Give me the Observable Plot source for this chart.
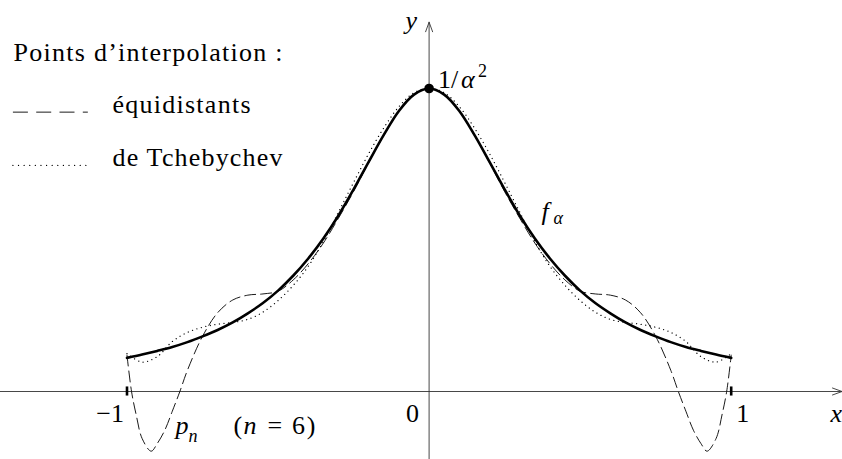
<!DOCTYPE html>
<html><head><meta charset="utf-8">
<script src="https://cdn.jsdelivr.net/npm/d3@7"></script>
<script src="https://cdn.jsdelivr.net/npm/@observablehq/plot@0.6"></script>
<style>html,body{margin:0;padding:0;background:#fff;} #chart{width:842px;height:459px;}</style>
</head><body><div id="chart"></div>
<script>
// ---- data ----
const xs = [-1, -0.95, -0.9, -0.85, -0.8, -0.75, -0.7, -0.65, -0.6, -0.55, -0.5, -0.45, -0.4, -0.35, -0.3, -0.25, -0.2, -0.15, -0.1, -0.05, 0,
            0.05, 0.1, 0.15, 0.2, 0.25, 0.3, 0.35, 0.4, 0.45, 0.5, 0.55, 0.6, 0.65, 0.7, 0.75, 0.8, 0.85, 0.9, 0.95, 1];
const fAlpha = [0.111, 0.122, 0.134, 0.147, 0.163, 0.182, 0.203, 0.228, 0.258, 0.292, 0.333, 0.382, 0.439, 0.505, 0.581, 0.667, 0.758, 0.847, 0.926, 0.980, 1.000,
                0.980, 0.926, 0.847, 0.758, 0.667, 0.581, 0.505, 0.439, 0.382, 0.333, 0.292, 0.258, 0.228, 0.203, 0.182, 0.163, 0.147, 0.134, 0.122, 0.111];
const tcheb = [0.125, 0.097, 0.115, 0.165, 0.195, 0.212, 0.222, 0.228, 0.238, 0.262, 0.300, 0.350, 0.413, 0.495, 0.592, 0.690, 0.785, 0.870, 0.940, 0.986, 1.000,
               0.986, 0.940, 0.870, 0.785, 0.690, 0.592, 0.495, 0.413, 0.350, 0.300, 0.262, 0.238, 0.228, 0.222, 0.212, 0.195, 0.165, 0.115, 0.097, 0.125];
const xEqui = [-1, -0.985, -0.97, -0.95, -0.92, -0.9, -0.875, -0.85, -0.825, -0.8, -0.75, -0.7, -0.65, -0.6, -0.55, -0.5, -0.45, -0.4, -0.35, -0.3, -0.25, -0.2, -0.15, -0.1, -0.05, 0,
               0.05, 0.1, 0.15, 0.2, 0.25, 0.3, 0.35, 0.4, 0.45, 0.5, 0.55, 0.6, 0.65, 0.7, 0.75, 0.8, 0.825, 0.85, 0.875, 0.9, 0.92, 0.95, 0.97, 0.985, 1];
const pEqui = [0.12, 0.0, -0.075, -0.155, -0.197, -0.172, -0.128, -0.065, 0.0, 0.07, 0.182, 0.26, 0.302, 0.318, 0.322, 0.331, 0.368, 0.422, 0.49, 0.572, 0.66, 0.755, 0.845, 0.925, 0.98, 1.0,
               0.98, 0.925, 0.845, 0.755, 0.66, 0.572, 0.49, 0.422, 0.368, 0.331, 0.322, 0.318, 0.302, 0.26, 0.182, 0.07, 0.0, -0.065, -0.128, -0.172, -0.197, -0.155, -0.075, 0.0, 0.12];
const legendTitle = "Points d’interpolation :";
const legendLabels = ["équidistants", "de Tchebychev"];
const tickValues = [-1, 0, 1];
const tickLabels = ["−1", "0", "1"];

// ---- tables ----
const fData = xs.map((x, i) => ({x, y: fAlpha[i]}));
const tData = xs.map((x, i) => ({x, y: tcheb[i]}));
const eData = xEqui.map((x, i) => ({x, y: pEqui[i]}));
const peak = [fData[xs.indexOf(0)]];
const ticks = tickValues.map((v, i) => ({v, label: tickLabels[i]}));

const serif = "Times New Roman, serif";
const T = (text, dx, dy, opts = {}) => Plot.text([text], {
  frameAnchor: "top-left", text: d => d, dx, dy, lineAnchor: "bottom", textAnchor: "start",
  fontFamily: serif, fontSize: 26, fill: "black", ...opts
});
const axisStroke = "#333";

const chart = Plot.plot({
  width: 842, height: 459, margin: 0,
  style: {background: "#fff", fontFamily: serif},
  x: {domain: [-1, 1], range: [126.5, 730.7], axis: null},
  y: {domain: [0, 1], range: [391, 88], axis: null},
  marks: [
    // axes
    Plot.arrow([0], {x1: -1.42, x2: 1.367, y1: 0, y2: 0, headLength: 17, headAngle: 40, stroke: axisStroke, strokeWidth: 0.9}),
    Plot.arrow([0], {x1: 0, x2: 0, y1: -0.225, y2: 1.219, headLength: 17, headAngle: 40, stroke: axisStroke, strokeWidth: 0.9}),
    Plot.ruleX(ticks.filter(d => d.v !== 0), {x: "v", y1: -0.015, y2: 0.015, stroke: "black", strokeWidth: 2.6}),
    // curves
    Plot.line(tData, {x: "x", y: "y", curve: "catmull-rom", stroke: "black", strokeWidth: 1.3, strokeDasharray: "0.01,4.6", strokeLinecap: "round"}),
    Plot.line(eData, {x: "x", y: "y", curve: "catmull-rom", stroke: "black", strokeWidth: 0.9, strokeDasharray: "11,5"}),
    Plot.line(fData, {x: "x", y: "y", curve: "catmull-rom", stroke: "black", strokeWidth: 2.6}),
    Plot.dot(peak, {x: "x", y: "y", r: 4.8, fill: "black", stroke: "none"}),
    // tick labels
    Plot.text(ticks.filter(d => d.v === -1), {x: "v", y: 0, text: "label", textAnchor: "end", lineAnchor: "bottom", dx: -3, dy: 30, fontFamily: serif, fontSize: 26}),
    Plot.text(ticks.filter(d => d.v === 0), {x: "v", y: 0, text: "label", textAnchor: "end", lineAnchor: "bottom", dx: -10, dy: 30, fontFamily: serif, fontSize: 26}),
    Plot.text(ticks.filter(d => d.v === 1), {x: "v", y: 0, text: "label", textAnchor: "start", lineAnchor: "bottom", dx: 5, dy: 30, fontFamily: serif, fontSize: 26}),
    // peak label 1/α²
    Plot.text(peak, {x: "x", y: "y", text: () => "1/", textAnchor: "start", lineAnchor: "bottom", dx: 9, dy: -1, fontFamily: serif, fontSize: 26}),
    Plot.text(peak, {x: "x", y: "y", text: () => "α", textAnchor: "start", lineAnchor: "bottom", dx: 32, dy: -1, fontFamily: serif, fontSize: 26, fontStyle: "italic"}),
    Plot.text(peak, {x: "x", y: "y", text: () => "2", textAnchor: "start", lineAnchor: "bottom", dx: 49, dy: -12, fontFamily: serif, fontSize: 18}),
    // axis names
    T("y", 405, 28, {fontStyle: "italic"}),
    T("x", 830, 421, {fontStyle: "italic"}),
    // curve labels
    T("f", 541, 219, {fontStyle: "italic"}),
    T("α", 553, 223, {fontStyle: "italic", fontSize: 18}),
    T("p", 175, 433, {fontStyle: "italic"}),
    T("n", 188, 441, {fontStyle: "italic", fontSize: 18}),
    T("(", 233, 433),
    T("n", 243, 433, {fontStyle: "italic"}),
    T("= 6)", 267, 433),
    // legend
    T(legendTitle, 13, 60),
    Plot.ruleY([0], {x1: -1.376, x2: -1.128, y: 0.922, stroke: "black", strokeWidth: 0.9, strokeDasharray: "15,8.3"}),
    T(legendLabels[0], 112, 112),
    Plot.ruleY([0], {x1: -1.376, x2: -1.128, y: 0.746, stroke: "black", strokeWidth: 1.3, strokeDasharray: "0.01,5.6", strokeLinecap: "round"}),
    T(legendLabels[1], 112, 165)
  ]
});

// stretch texts to the widths of the reference typeface
const widths = {[legendTitle]: 269, [legendLabels[0]]: 138, [legendLabels[1]]: 170, "= 6)": 48};
chart.querySelectorAll("text").forEach(t => {
  const w = widths[t.textContent];
  if (w) { t.setAttribute("textLength", w); t.setAttribute("lengthAdjust", "spacing"); }
});
document.getElementById("chart").appendChild(chart);
</script>
</body></html>
